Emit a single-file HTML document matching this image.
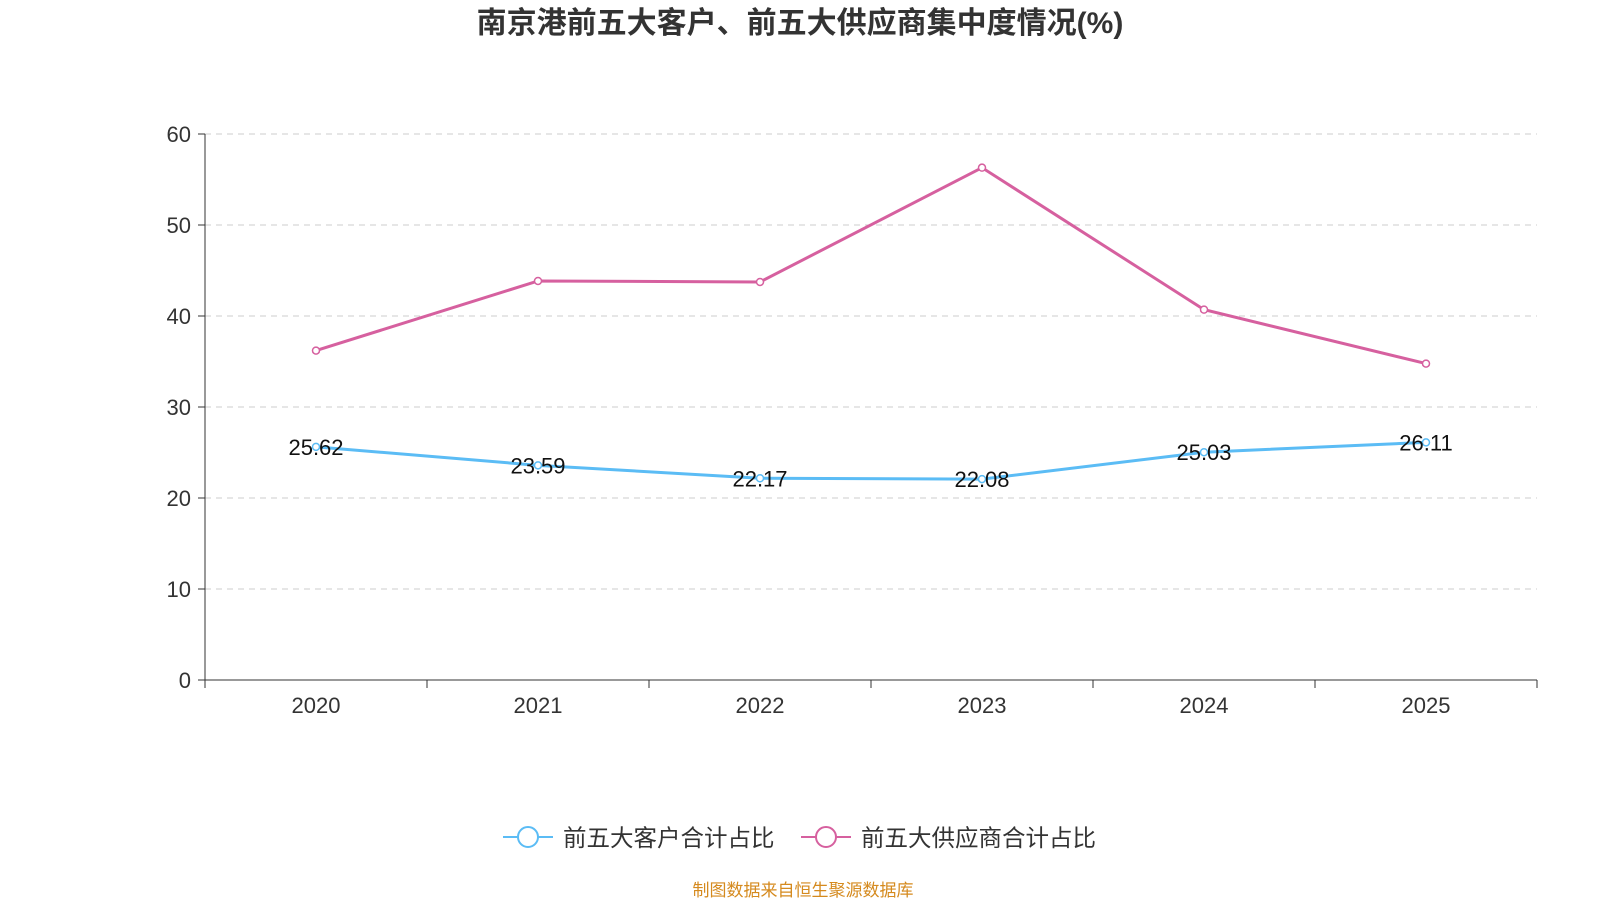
<!DOCTYPE html>
<html><head><meta charset="utf-8">
<style>
body{margin:0;background:#fff;}
svg text{font-family:"Liberation Sans","Noto Sans CJK SC",sans-serif;}
</style></head>
<body>
<svg id="chart" width="1600" height="900" xmlns="http://www.w3.org/2000/svg">
<text x="800" y="33" text-anchor="middle" font-size="30" font-weight="bold" fill="#333">南京港前五大客户、前五大供应商集中度情况(%)</text>
<g id="grid"></g><g id="axes"></g><g id="series"></g>
<g>
<g>
<line x1="503" y1="837" x2="553" y2="837" stroke="#5bbcf5" stroke-width="2"/>
<circle cx="528" cy="837" r="10" fill="#fff" stroke="#5bbcf5" stroke-width="2"/>
<text x="563" y="846" font-size="23.5" fill="#333">前五大客户合计占比</text></g>
<g>
<line x1="801" y1="837" x2="851" y2="837" stroke="#d6609f" stroke-width="2"/>
<circle cx="826" cy="837" r="10" fill="#fff" stroke="#d6609f" stroke-width="2"/>
<text x="861" y="846" font-size="23.5" fill="#333">前五大供应商合计占比</text></g>
</g>
<text x="803" y="896" text-anchor="middle" font-size="17" fill="#d58a1e">制图数据来自恒生聚源数据库</text>
</svg>
<script>
const categories=["2020","2021","2022","2023","2024","2025"];
const customers=[25.62,23.59,22.17,22.08,25.03,26.11];
const suppliers=[36.2,43.85,43.74,56.3,40.7,34.77];
const yTicks=[0,10,20,30,40,50,60];
const NS="http://www.w3.org/2000/svg";
const x0=205,x1=1537,yBase=680,yTop=134;
const bw=(x1-x0)/categories.length;
const X=i=>x0+bw*(i+0.5);
const Y=v=>yBase-(v/60)*(yBase-yTop);
function mk(t,a,p){const e=document.createElementNS(NS,t);for(const k in a)e.setAttribute(k,a[k]);p.appendChild(e);return e;}
const grid=document.getElementById('grid'),axes=document.getElementById('axes'),ser=document.getElementById('series');
yTicks.forEach(v=>{
 if(v>0){const l=mk('line',{x1:x0,x2:x1,y1:Y(v),y2:Y(v),stroke:'#ccc','stroke-dasharray':'6,5'},grid);
 
 }
 mk('line',{x1:x0-7,x2:x0,y1:Y(v),y2:Y(v),stroke:'#333'},axes);
 const t=mk('text',{x:x0-14,y:Y(v)+8,'text-anchor':'end','font-size':22,fill:'#333'},axes);t.textContent=v;
 
 
});
mk('line',{x1:x0,x2:x0,y1:yTop,y2:yBase,stroke:'#333'},axes);
mk('line',{x1:x0,x2:x1,y1:yBase,y2:yBase,stroke:'#333'},axes);
for(let i=0;i<=categories.length;i++)mk('line',{x1:x0+bw*i,x2:x0+bw*i,y1:yBase,y2:yBase+8,stroke:'#333'},axes);
categories.forEach((c,i)=>{const t=mk('text',{x:X(i),y:yBase+33,'text-anchor':'middle','font-size':22,fill:'#333'},axes);t.textContent=c;
 
 });
function line(vals,color,name,labels){
 const p=mk('polyline',{points:vals.map((v,i)=>X(i)+','+Y(v)).join(' '),fill:'none',stroke:color,'stroke-width':3},ser);
 
 
 vals.forEach((v,i)=>{const c=mk('circle',{cx:X(i),cy:Y(v),r:3.5,fill:'#fff',stroke:color,'stroke-width':1.5},ser);
  
  
  if(labels){const t=mk('text',{x:X(i),y:Y(v)+8,'text-anchor':'middle','font-size':22,fill:'#111'},ser);t.textContent=v.toFixed(2);
  
  }
 });
}
line(suppliers,'#d6609f','suppliers',false);
line(customers,'#5bbcf5','customers',true);
</script>
</body></html>
